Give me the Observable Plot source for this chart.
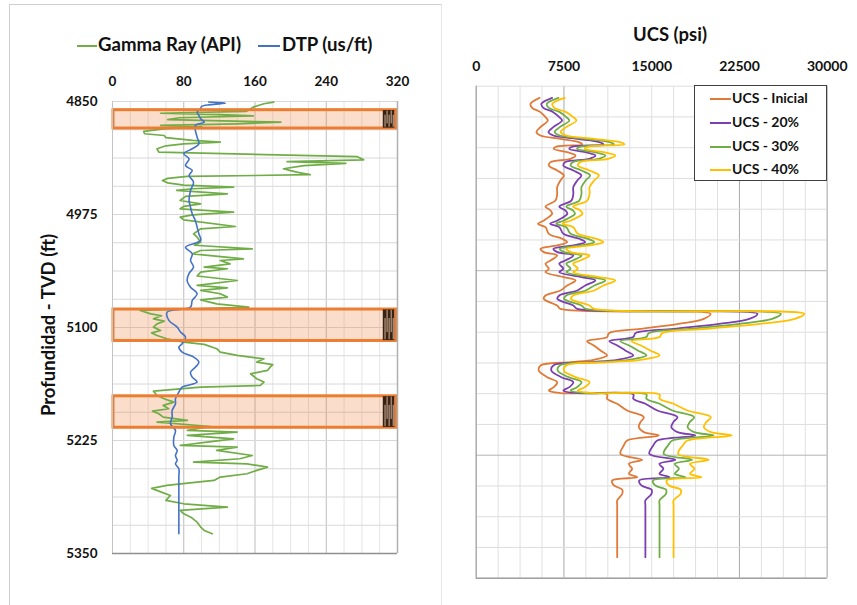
<!DOCTYPE html>
<html>
<head>
<meta charset="utf-8">
<script src="https://cdn.jsdelivr.net/npm/d3@7"></script>
<script src="https://cdn.jsdelivr.net/npm/@observablehq/plot@0.6"></script>
<style>
  body { margin: 0; background: #fff; }
  #page { position: relative; width: 857px; height: 605px; overflow: hidden; background: #fff;
          font-family: Lato, "Open Sans", sans-serif; font-weight: 700; color: #111; }
  .abs { position: absolute; white-space: nowrap; line-height: 1; }
  .swatch { position: absolute; height: 2px; }
  #frame { position: absolute; left: 9px; top: 4px; width: 431px; height: 640px;
           border-left: 1px solid #d0d0d0; border-top: 1px solid #d0d0d0; border-right: 1px solid #e6e6e6; }
  #logPanel, #ucsPanel { position: absolute; top: 0; }
  #logPanel { left: 0; }
  #ucsPanel { left: 440px; }
  #ucsLegend { position: absolute; left: 694px; top: 85px; width: 131px; height: 94px;
               border: 1.3px solid #404040; background: #fff; }
</style>
</head>
<body>
<div id="page">
  <div id="frame"></div>
  <div id="logPanel"></div>
  <div id="ucsPanel"></div>

  <!-- log panel legend -->
  <div class="swatch" style="left:77px;top:44.5px;width:20px;background:#70ad47"></div>
  <div class="abs" style="left:98px;top:35.3px;font-size:18.6px">Gamma Ray (API)</div>
  <div class="swatch" style="left:258px;top:44.5px;width:22px;background:#4472c4"></div>
  <div class="abs" style="left:282px;top:35.3px;font-size:18.6px">DTP (us/ft)</div>

  <!-- depth axis title -->
  <div class="abs" style="left:-52px;top:316px;width:200px;height:18px;font-size:18.5px;text-align:center;transform:rotate(-90deg)">Profundidad - TVD (ft)</div>

  <!-- UCS panel title -->
  <div class="abs" style="left:570px;top:25.3px;width:200px;font-size:18.5px;text-align:center">UCS (psi)</div>

  <div id="ucsLegend"></div>
</div>

<script>
// ---- Gamma Ray log (API) vs depth (ft)
const grDepth = [4850.7,4852.5,4856.2,4861,4863,4864.5,4866,4868,4870,4872.8,
  4874.7,4876.5,4878,4880,4883,4885.7,4887.6,4890,4893,4895,
  4896.8,4899,4902.3,4906,4911,4914.5,4916.5,4918.5,4921,4924.4,
  4926.5,4928.1,4931,4932.9,4935,4937.3,4940,4942.5,4944.7,4946.5,
  4948.4,4952.1,4955,4959.5,4963.2,4966,4968.7,4972.4,4975.5,4977.9,
  4981,4988.3,4990.8,4996.4,5000,5005.6,5009,5013,5014.8,5018.5,
  5024,5025.9,5029.6,5033.2,5035,5038.8,5043,5048,5053.5,5056.1,
  5059,5062.7,5066.4,5069.4,5073.8,5077.5,5081.2,5084.9,5087,5090.4,
  5093,5096,5099.6,5103.3,5106,5108.8,5112.5,5116.2,5118.7,5123.5,
  5127.2,5130.9,5134.6,5138.3,5141,5143.8,5147.5,5151.2,5156.7,5160.4,
  5164.1,5165.9,5170.4,5175.2,5178.8,5182.5,5186.2,5189.9,5192.5,5195.4,
  5199.1,5202.8,5204.7,5209.5,5213.9,5215.7,5219.4,5223.1,5226.8,5230.5,
  5232.3,5236,5241.6,5245.2,5248.9,5250.8,5254.5,5258.1,5261.8,5265.5,
  5269.2,5271,5274.7,5278,5281,5285.8,5291.3,5295,5298.7,5302.4,
  5306.1,5309.8,5315.3,5320.8,5324.5,5328.2];
const grValue = [181,170,158,150,54,120,158,75,62,189,
  140,54,100,60,35,36,58,60,90,121,
  80,60,50,52,275,282,196,262,215,192,
  200,207,222,84,62,56,62,80,136,90,
  72,129,82,76,99,80,76,136,90,76,
  80,138,99,91,95,99,92,157,99,90,
  147,121,132,103,129,99,95,140,95,129,
  99,121,129,99,117,153,31,43,55,46,
  58,50,46,54,44,50,61,80,103,117,
  121,140,170,162,180,177,174,155,162,170,
  166,99,46,50,58,69,57,63,45,52,
  57,84,50,110,84,140,84,136,106,76,
  140,117,157,143,91,151,174,162,151,121,
  114,95,61,44,52,65,60,80,129,76,
  80,88,95,99,103,112];

// ---- Compressional slowness DTP (us/ft) vs depth (ft)
const dtpDepth = [4850.5,4851.8,4853.5,4855.5,4858,4861.8,4865.4,4869.1,4872.8,4876.5,
  4882,4889.4,4896.8,4902.3,4907.9,4913.4,4920.8,4926.3,4931.8,4939.2,
  4948.4,4959.5,4966.9,4974.2,4981.6,4989,4996.4,5003.7,5011.1,5018.5,
  5025.9,5033.2,5040.6,5048,5055.4,5062.7,5070.1,5077.5,5083,5092.2,
  5099.6,5105.1,5110.6,5118,5121.7,5127.2,5132.8,5138.3,5143.8,5149.3,
  5154.9,5160.4,5166,5171.5,5178.8,5184.4,5191.8,5199.1,5206.5,5213.9,
  5221.2,5230.5,5236,5241.6,5247.1,5250.8,5256.3,5265.5,5328.2];
const dtpValue = [108,127,110,100,99,95,97,99,103,93,
  93,95,97,89.5,80,86,82,89.5,86,91,
  87.6,86,87.6,89.5,93,95,97,99,82,89.5,
  87.6,91,85.7,83.8,87.6,95,89.5,87.6,61.4,63.3,
  72.6,76.4,82,78.2,74.5,78.2,91.3,97,93.2,87.6,
  89.5,95,78.2,74.5,70.7,70.7,67,67,65.1,70.7,
  68.9,68.9,72.6,70.7,72.6,70.7,74.5,74.5,74.5];

// ---- Cored intervals (ft)
const coreTop = [4858.5, 5079, 5175];
const coreBottom = [4881, 5116, 5212];

// ---- UCS (psi) vs depth (ft), initial and with +20/30/40 %
const ucsDepth = [4850.1,4856.3,4860.5,4865.0,4870.2,4873.7,4880.6,4885.8,4889.3,4892.8,
  4896.2,4898.6,4900.7,4903.2,4906.6,4910.1,4913.6,4917.0,4920.5,4925.7,
  4930.9,4936.1,4943.0,4950.0,4957.0,4963.2,4967.3,4970.8,4977.7,4981.2,
  4984.7,4991.6,4996.8,5000.3,5003.7,5007.2,5010.7,5014.2,5019.4,5022.8,
  5028.0,5031.5,5036.7,5040.2,5045.4,5050.6,5055.8,5059.3,5066.2,5069.7,
  5074.9,5080.1,5085.3,5090.5,5095.0,5099.1,5103.3,5107.8,5113.0,5118.2,
  5122.7,5125.2,5128.6,5133.8,5140.8,5146.0,5151.2,5154.7,5157.4,5158.8,
  5163.3,5168.5,5175.5,5182.4,5187.6,5192.8,5198.0,5201.5,5206.7,5211.9,
  5220.6,5226.8,5231.0,5236.2,5241.4,5244.9,5248.3,5253.5,5257.8,5262.2,
  5269.1,5274.3,5328.1];
const ucsInicial = [5410,4640,4780,5490,5920,6120,5490,5150,5490,7200,
  8770,9060,6920,6630,7770,8490,8060,6350,6210,6920,
  7490,7200,6920,6920,6780,5920,6350,6490,5780,5270,
  5920,6210,7350,7770,6920,5500,5780,6920,6350,5920,
  6210,5920,7490,8490,7770,7200,5920,5780,6920,7200,
  20030,19450,17300,14040,11340,11190,9480,10050,10620,11190,
  10050,8060,5500,5350,6070,6920,6630,6210,7200,11190,
  11190,12050,12900,14330,14040,13900,14330,15610,12900,12610,
  12330,14190,13050,13330,13050,13760,11620,11770,12480,12480,
  12050,12050,12050];
const ucs20 = [6490,5570,5740,6590,7100,7340,6590,6180,6590,8640,
  10520,10870,8300,7960,9320,10190,9670,7620,7450,8300,
  8990,8640,8300,8300,8140,7100,7620,7790,6940,6320,
  7100,7450,8820,9320,8300,6600,6940,8300,7620,7100,
  7450,7100,8990,10190,9320,8640,7100,6940,8300,8640,
  24040,23340,20760,16850,13610,13430,11380,12060,12740,13430,
  12060,9670,6600,6420,7280,8300,7960,7450,8640,13430,
  13430,14460,15480,17200,16850,16680,17200,18730,15480,15130,
  14800,17030,15660,16000,15660,16510,13940,14120,14980,14980,
  14460,14460,14460];
const ucs30 = [7030,6030,6210,7140,7700,7960,7140,6700,7140,9360,
  11400,11780,9000,8620,10100,11040,10480,8260,8070,9000,
  9740,9360,9000,9000,8810,7700,8260,8440,7510,6850,
  7700,8070,9560,10100,9000,7150,7510,9000,8260,7700,
  8070,7700,9740,11040,10100,9360,7700,7510,9000,9360,
  26040,25290,22490,18250,14740,14550,12320,13070,13810,14550,
  13070,10480,7150,6960,7890,9000,8620,8070,9360,14550,
  14550,15670,16770,18630,18250,18070,18630,20290,16770,16390,
  16030,18450,16970,17330,16970,17890,15110,15300,16220,16220,
  15670,15670,15670];
const ucs40 = [7570,6500,6690,7690,8290,8570,7690,7210,7690,10080,
  12280,12680,9690,9280,10880,11890,11280,8890,8690,9690,
  10490,10080,9690,9690,9490,8290,8890,9090,8090,7380,
  8290,8690,10290,10880,9690,7700,8090,9690,8890,8290,
  8690,8290,10490,11890,10880,10080,8290,8090,9690,10080,
  28040,27230,24220,19660,15880,15670,13270,14070,14870,15670,
  14070,11280,7700,7490,8500,9690,9280,8690,10080,15670,
  15670,16870,18060,20060,19660,19460,20060,21850,18060,17650,
  17260,19870,18270,18660,18270,19260,16270,16480,17470,17470,
  16870,16870,16870];

// ---- Axis ticks and series names
const logTicks = [0, 80, 160, 240, 320];
const depthTicks = [4850, 4975, 5100, 5225, 5350];
const ucsTicks = [0, 7500, 15000, 22500, 30000];
const ucsNames = ["UCS - Inicial", "UCS - 20%", "UCS - 30%", "UCS - 40%"];
const ucsColors = ["#e07a38", "#7b3fb0", "#70ad47", "#ffc000"];

// ---------- tables built from the arrays
const gr = grDepth.map((depth, i) => ({depth, value: grValue[i]}));
const dtp = dtpDepth.map((depth, i) => ({depth, value: dtpValue[i]}));
const cores = coreTop.map((top, i) => ({top, bottom: coreBottom[i]}));
const ucsSeries = [ucsInicial, ucs20, ucs30, ucs40];
const ucs = ucsSeries.flatMap((vals, s) =>
  ucsDepth.map((depth, i) => ({series: ucsNames[s], depth, value: vals[i]})));

const axisFont = "font-family:Lato,'Open Sans',sans-serif;font-weight:700;font-size:13.5px;color:#111;background:none;overflow:visible";
const plain = d => String(d);

// core photo marker drawn near the right edge of each cored interval
const [logMin, logMax] = [logTicks[0], logTicks[logTicks.length - 1]];
const markerX1 = logMax - 16, markerX2 = logMax - 3;
const notches = cores.flatMap(c => d3.range(5).map(k => ({
  x: markerX1 + 2 + k * 2.3,
  y1: k % 2 ? c.top + 2 : c.top + (c.bottom - c.top) * 0.3,
  y2: k % 2 ? c.top + (c.bottom - c.top) * 0.72 : c.bottom - 2.5
})));

// ---------- left: well log track
const logPlot = Plot.plot({
  width: 440, height: 605,
  marginLeft: 112, marginRight: 43, marginTop: 101, marginBottom: 52,
  style: axisFont,
  x: {domain: [logMin, logMax]},
  y: {domain: [depthTicks[0], depthTicks[depthTicks.length - 1]], reverse: true},
  marks: [
    Plot.ruleX(d3.range(logMin, logMax + 1, 20), {
      stroke: d => (d % 80 === 0 && d > logMin && d < logMax) ? "#bdbdbd" : "#e4e4e4", strokeWidth: 1
    }),
    Plot.ruleY(d3.range(depthTicks[0], depthTicks[4] + 1, 31.25), {stroke: "#d8d8d8"}),
    Plot.rect(cores, {x1: () => logMin, x2: () => logMax, y1: "top", y2: "bottom",
      fill: "#ed7d31", fillOpacity: 0.25}),
    Plot.line(gr, {x: "value", y: "depth", stroke: "#70ad47", strokeWidth: 1.7}),
    Plot.line(dtp, {x: "value", y: "depth", stroke: "#4472c4", strokeWidth: 1.6, curve: "catmull-rom"}),
    Plot.rect(cores, {x1: () => logMin, x2: () => logMax, y1: "top", y2: "bottom",
      fill: "none", stroke: "#ed7d31", strokeWidth: 3, inset: 1}),
    Plot.rect(cores, {x1: () => markerX1, x2: () => markerX2,
      y1: d => d.top + 1.5, y2: d => d.bottom - 1.5, fill: "#3b2313"}),
    Plot.ruleX(notches, {x: "x", y1: "y1", y2: "y2", stroke: "#cdb29c", strokeWidth: 1}),
    Plot.ruleX([logMin], {stroke: "#c4c4c4"}),
    Plot.ruleX([logMax], {stroke: "#b0b0b0", strokeWidth: 1.5}),
    Plot.ruleY([depthTicks[4]], {stroke: "#8f8f8f", strokeWidth: 1.5}),
    Plot.axisX(logTicks, {anchor: "top", tickSize: 0, tickPadding: 16, label: null, tickFormat: plain}),
    Plot.axisY(depthTicks, {anchor: "left", tickSize: 0, tickPadding: 15, label: null, tickFormat: plain})
  ]
});
document.getElementById("logPanel").append(logPlot);

// ---------- right: UCS track
const ucsDepthDomain = [4838, 5350];
const ucsGridY = d3.range(17).map(i => ucsDepthDomain[0] + i * (ucsDepthDomain[1] - ucsDepthDomain[0]) / 16);
const ucsPlot = Plot.plot({
  width: 417, height: 605,
  marginLeft: 35.7, marginRight: 30.3, marginTop: 85.7, marginBottom: 27.3,
  style: axisFont.replace("13.5px", "14px"),
  x: {domain: [ucsTicks[0], ucsTicks[4]]},
  y: {domain: ucsDepthDomain, reverse: true, axis: null},
  color: {domain: ucsNames, range: ucsColors},
  marks: [
    Plot.ruleX(d3.range(ucsTicks[0], ucsTicks[4] + 1, 1875), {
      stroke: d => (d === 7500 || d === 22500) ? "#a9a9a9" : "#e0e0e0"
    }),
    Plot.ruleY(ucsGridY, {stroke: (d, i) => (i === 6 || i === 12) ? "#b4b4b4" : "#dedede"}),
    Plot.line(ucs, {x: "value", y: "depth", z: "series", stroke: "series",
      strokeWidth: 1.8, curve: "catmull-rom"}),
    Plot.ruleX([ucsTicks[0]], {stroke: "#a6a6a6", strokeWidth: 1.3}),
    Plot.ruleX([ucsTicks[4]], {stroke: "#bdbdbd", strokeWidth: 1.3}),
    Plot.ruleY([ucsDepthDomain[1]], {stroke: "#a0a0a0", strokeWidth: 1.5}),
    Plot.axisX(ucsTicks, {anchor: "top", tickSize: 0, tickPadding: 15.7, label: null, tickFormat: plain})
  ]
});
document.getElementById("ucsPanel").append(ucsPlot);

// ---------- UCS legend
const legend = document.getElementById("ucsLegend");
const baselines = [103.3, 127.3, 151.7, 174];
ucsNames.forEach((name, i) => {
  const sw = document.createElement("div");
  sw.className = "swatch";
  Object.assign(sw.style, {left: "15px", top: (baselines[i] - 5.5 - 86) + "px", width: "21px", background: ucsColors[i]});
  legend.append(sw);
  const t = document.createElement("div");
  t.className = "abs";
  t.textContent = name;
  Object.assign(t.style, {left: "37px", top: (baselines[i] - 0.887 * 14 - 86) + "px", fontSize: "14px"});
  legend.append(t);
});
</script>
</body>
</html>
